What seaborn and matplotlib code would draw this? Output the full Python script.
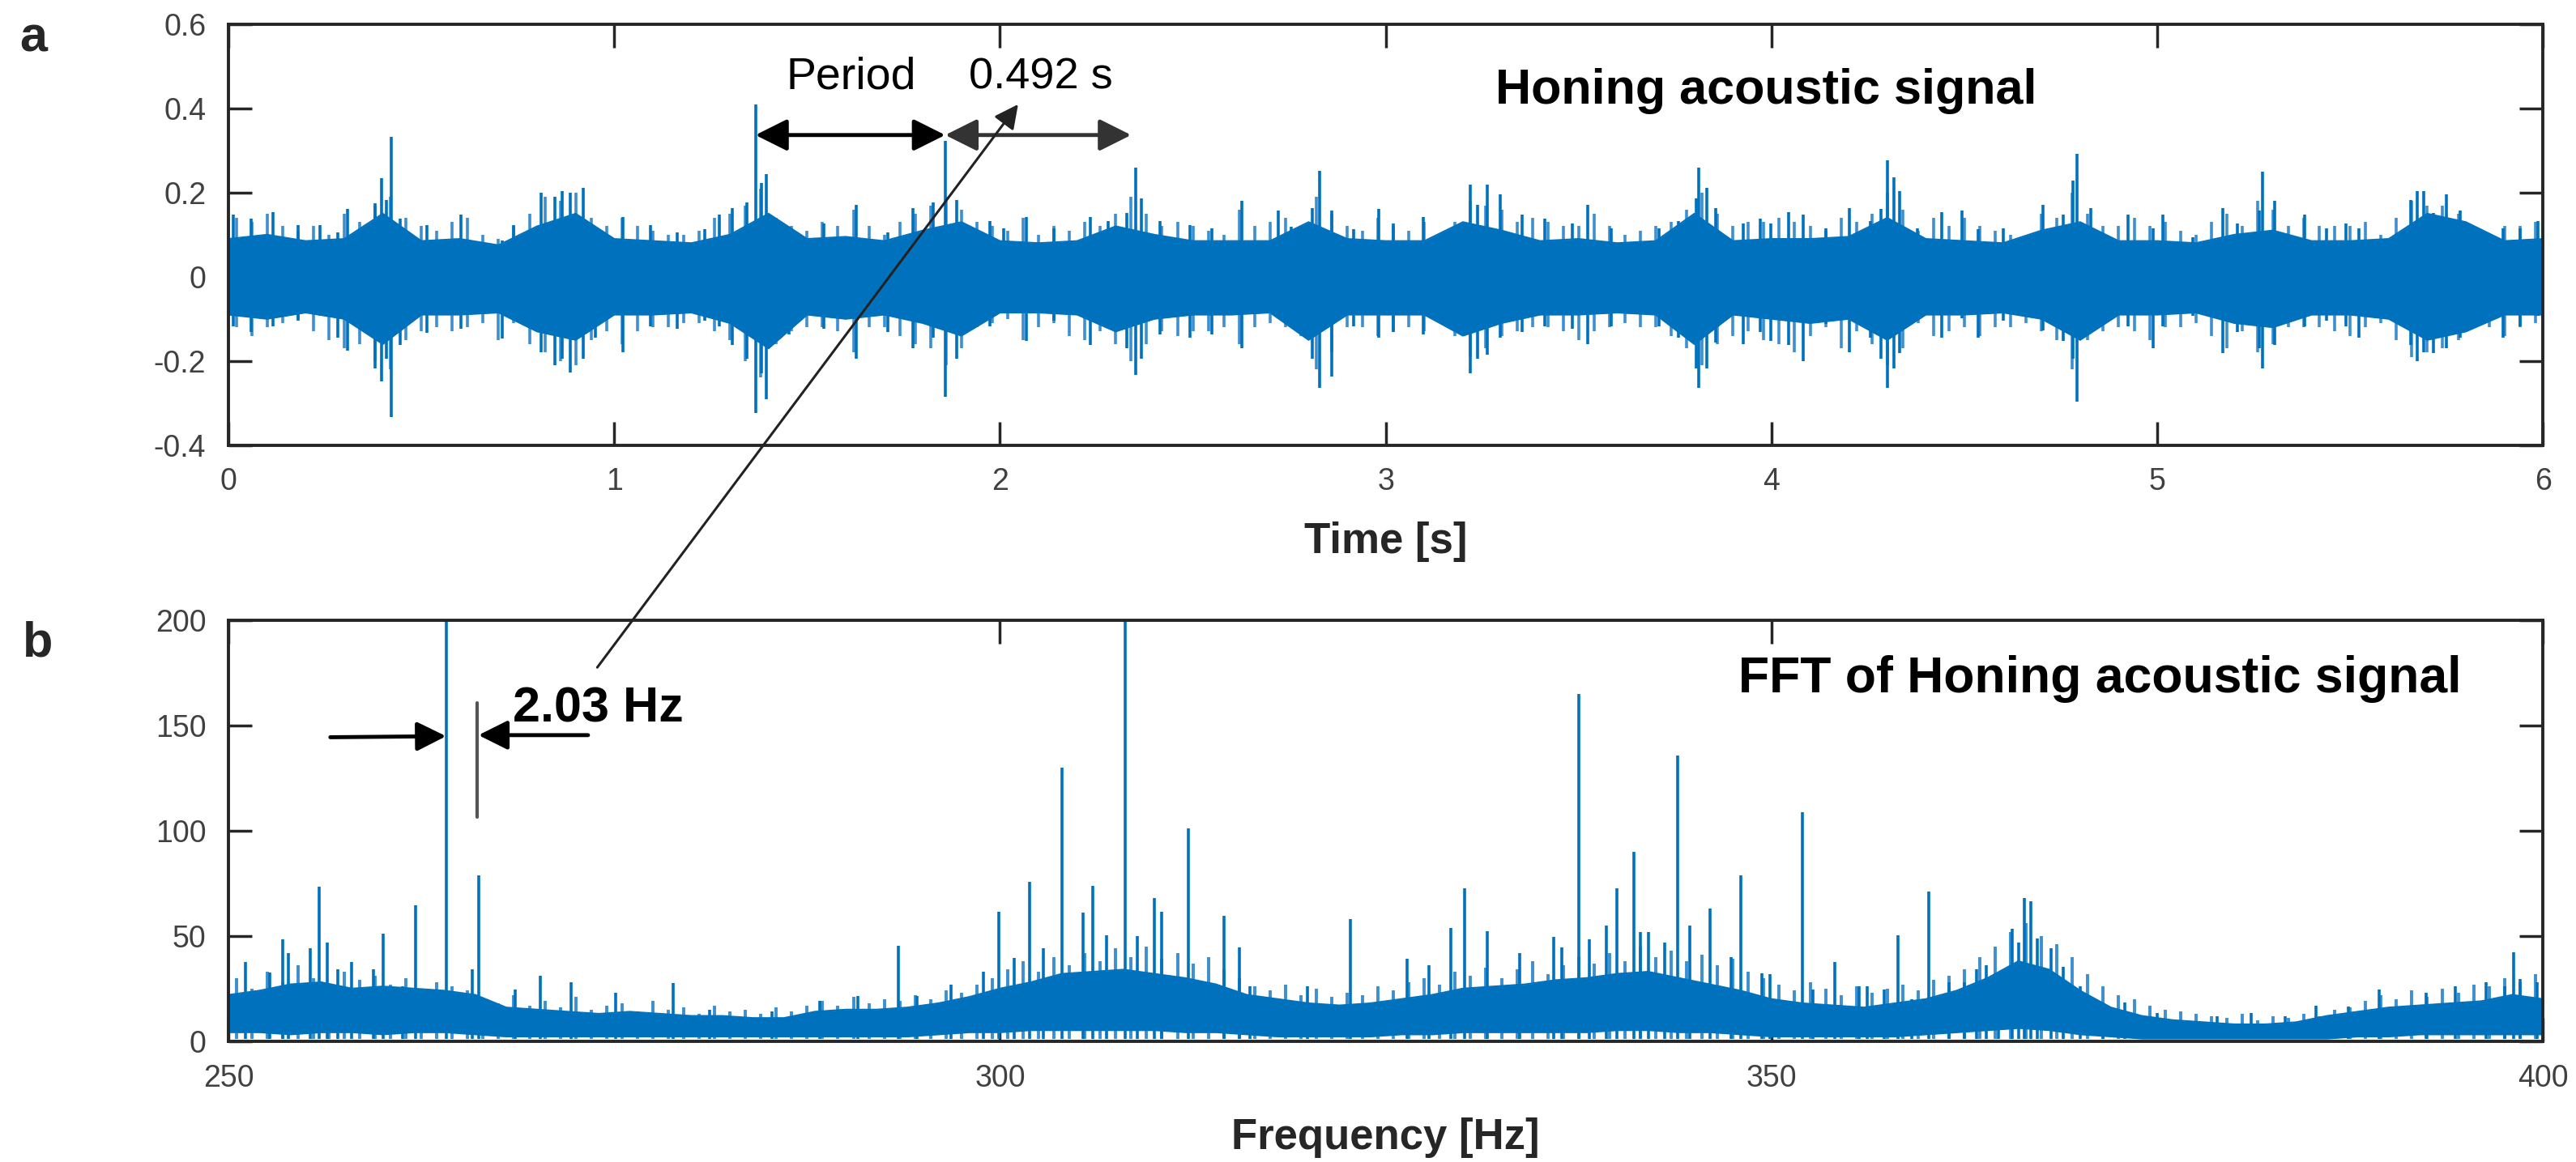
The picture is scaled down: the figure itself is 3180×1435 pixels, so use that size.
import numpy as np
import pandas as pd
import matplotlib
matplotlib.use("Agg")
import matplotlib.pyplot as plt
from matplotlib.patches import ConnectionPatch
import seaborn as sns

# ---------------- data ----------------
# (a) time signal: envelope of the dense part, every 0.1 s
env_t = [round(0.1 * i, 1) for i in range(61)]
env_hi = [0.09, 0.10, 0.085, 0.09, 0.15, 0.085, 0.09, 0.075, 0.12, 0.15,
          0.09, 0.085, 0.08, 0.10, 0.15, 0.09, 0.095, 0.085, 0.11, 0.13,
          0.085, 0.08, 0.085, 0.12, 0.10, 0.085, 0.085, 0.085, 0.13, 0.09,
          0.085, 0.085, 0.13, 0.11, 0.085, 0.09, 0.08, 0.085, 0.15, 0.085,
          0.09, 0.09, 0.095, 0.14, 0.09, 0.085, 0.08, 0.11, 0.13, 0.085,
          0.085, 0.08, 0.10, 0.11, 0.085, 0.085, 0.09, 0.15, 0.13, 0.085, 0.09]
env_lo = [-0.09, -0.10, -0.085, -0.10, -0.16, -0.09, -0.09, -0.085, -0.13, -0.15,
          -0.09, -0.09, -0.085, -0.11, -0.17, -0.09, -0.10, -0.09, -0.11, -0.14,
          -0.085, -0.085, -0.09, -0.13, -0.10, -0.09, -0.09, -0.085, -0.15, -0.09,
          -0.09, -0.09, -0.14, -0.11, -0.09, -0.09, -0.085, -0.09, -0.16, -0.09,
          -0.10, -0.11, -0.10, -0.15, -0.09, -0.09, -0.085, -0.10, -0.15, -0.09,
          -0.09, -0.085, -0.11, -0.12, -0.09, -0.09, -0.10, -0.15, -0.13, -0.09, -0.09]

# (a) fringe of the waveform, every 0.04 s (max / min)
fr_t = [round(0.02 + 0.04 * k, 2) for k in range(150)]
fr_hi = [.14, .13, .15, .12, .11, .12, .10, .15,
         .13, .17, .19, .14,
         .12, .11, .13, .14, .10, .09, .12,
         .15, .19, .18, .20, .14,
         .12, .14, .12, .11, .10, .10, .11, .14, .15,
         .17, .21, .14,
         .12, .11, .13, .12, .16, .12, .10, .13, .15,
         .17, .19, .16,
         .13, .12, .11, .14, .10, .12, .11, .13, .12, .15,
         .19, .15,
         .12, .13, .12, .11, .10, .16, .12, .13, .14, .12,
         .19, .15,
         .12, .11, .14, .12, .11, .13, .10, .13,
         .18, .17, .16,
         .13, .14, .13, .12, .12, .15, .12, .10, .11, .12, .13, .16,
         .20, .15,
         .12, .13, .13, .14, .13, .12, .11, .14, .13, .15,
         .20, .16,
         .11, .14, .12, .14, .12, .11, .10, .09, .15, .14,
         .20, .15,
         .12, .12, .14, .12, .13, .11, .10, .13, .15, .12,
         .18, .16,
         .12, .14, .12, .12, .12, .13, .10, .14,
         .18, .17, .17, .15,
         .12, .10, .12, .12, .13]
fr_lo = [-.12, -.14, -.12, -.11, -.10, -.13, -.15, -.17,
         -.16, -.20, -.22, -.15,
         -.13, -.12, -.13, -.12, -.11, -.15, -.11,
         -.16, -.18, -.20, -.21, -.15,
         -.13, -.16, -.13, -.12, -.12, -.11, -.11, -.13, -.15,
         -.20, -.24, -.16,
         -.13, -.12, -.12, -.13, -.18, -.12, -.12, -.14, -.16,
         -.17, -.21, -.17,
         -.12, -.11, -.10, -.15, -.12, -.11, -.14, -.15, -.13, -.16,
         -.20, -.16,
         -.13, -.14, -.13, -.13, -.12, -.16, -.12, -.11, -.12, -.14,
         -.22, -.18,
         -.12, -.12, -.14, -.13, -.12, -.13, -.11, -.14,
         -.19, -.17, -.14,
         -.13, -.12, -.12, -.13, -.15, -.13, -.12, -.11, -.12, -.12, -.14, -.17,
         -.21, -.16,
         -.14, -.13, -.15, -.16, -.18, -.14, -.12, -.17, -.13, -.16,
         -.21, -.17,
         -.11, -.14, -.13, -.12, -.14, -.12, -.12, -.11, -.13, -.15,
         -.22, -.15,
         -.13, -.12, -.13, -.15, -.12, -.12, -.11, -.14, -.17, -.13,
         -.18, -.16,
         -.12, -.12, -.12, -.13, -.14, -.12, -.11, -.15,
         -.19, -.18, -.17, -.15,
         -.12, -.12, -.14, -.12, -.11]

# (a) individual excursions: time, maximum, minimum
spk_t = [0.013, 0.058, 0.116, 0.18, 0.238, 0.283, 0.309, 0.379, 0.396, 0.409, 0.422, 0.444,
         0.514, 0.602, 0.71, 0.739, 0.81, 0.846, 0.864, 0.887, 0.919, 0.951, 1.022, 1.093,
         1.164, 1.234, 1.273, 1.305, 1.344, 1.366, 1.382, 1.395, 1.453, 1.543, 1.627, 1.71,
         1.774, 1.826, 1.858, 1.888, 1.974,
         2.01, 2.068, 2.139, 2.235, 2.28, 2.328, 2.351, 2.366, 2.415, 2.492, 2.55, 2.627,
         2.721, 2.756, 2.809, 2.829, 2.859, 2.917, 2.981, 3.02, 3.097, 3.161, 3.219, 3.238,
         3.264, 3.296, 3.354, 3.412, 3.483, 3.524, 3.585, 3.708, 3.759, 3.804, 3.812, 3.832,
         3.856, 3.926, 3.971,
         3.999, 4.044, 4.082, 4.14, 4.202, 4.256, 4.284, 4.301, 4.318, 4.331, 4.378, 4.442,
         4.494, 4.536, 4.6, 4.703, 4.757, 4.781, 4.791, 4.828, 4.925, 4.989, 5.015, 5.092,
         5.169, 5.208, 5.265, 5.272, 5.304, 5.381, 5.439, 5.49, 5.523, 5.658, 5.673, 5.69,
         5.716, 5.75, 5.786, 5.825, 5.896, 5.941, 5.986]
spk_hi = [0.148, 0.138, 0.154, 0.122, 0.122, 0.106, 0.161, 0.174, 0.235, 0.183, 0.332, 0.138,
          0.122, 0.148, 0.087, 0.122, 0.199, 0.19, 0.203, 0.2, 0.212, 0.113, 0.142, 0.122,
          0.106, 0.113, 0.148, 0.164, 0.177, 0.409, 0.222, 0.244, 0.119, 0.126, 0.171, 0.106,
          0.164, 0.177, 0.324, 0.183, 0.132,
          0.116, 0.142, 0.116, 0.142, 0.132, 0.151, 0.259, 0.187, 0.132, 0.122, 0.116, 0.18,
          0.158, 0.119, 0.164, 0.252, 0.158, 0.113, 0.161, 0.126, 0.142, 0.087, 0.219, 0.171,
          0.219, 0.196, 0.148, 0.138, 0.126, 0.171, 0.116, 0.116, 0.132, 0.187, 0.26, 0.212,
          0.164, 0.126, 0.138,
          0.126, 0.154, 0.148, 0.116, 0.164, 0.132, 0.161, 0.276, 0.236, 0.203, 0.116, 0.154,
          0.158, 0.113, 0.116, 0.171, 0.148, 0.228, 0.292, 0.164, 0.148, 0.116, 0.148, 0.094,
          0.164, 0.126, 0.158, 0.25, 0.18, 0.148, 0.116, 0.126, 0.116, 0.183, 0.204, 0.203,
          0.151, 0.196, 0.158, 0.116, 0.116, 0.116, 0.132]
spk_lo = [-0.118, -0.131, -0.118, -0.105, -0.092, -0.144, -0.176, -0.217, -0.249, -0.195, -0.333, -0.163,
          -0.134, -0.124, -0.147, -0.092, -0.179, -0.211, -0.195, -0.227, -0.195, -0.144, -0.179, -0.118,
          -0.124, -0.105, -0.118, -0.163, -0.195, -0.323, -0.23, -0.291, -0.137, -0.124, -0.195, -0.131,
          -0.169, -0.144, -0.285, -0.195, -0.118,
          -0.086, -0.153, -0.105, -0.163, -0.124, -0.169, -0.233, -0.195, -0.137, -0.144, -0.137, -0.169,
          -0.099, -0.112, -0.195, -0.265, -0.237, -0.118, -0.144, -0.131, -0.137, -0.105, -0.23, -0.195,
          -0.185, -0.144, -0.131, -0.118, -0.124, -0.16, -0.118, -0.118, -0.144, -0.217, -0.265, -0.217,
          -0.156, -0.16, -0.131,
          -0.153, -0.163, -0.201, -0.112, -0.179, -0.144, -0.195, -0.265, -0.217, -0.182, -0.092, -0.144,
          -0.099, -0.144, -0.105, -0.128, -0.153, -0.195, -0.297, -0.118, -0.118, -0.169, -0.118, -0.092,
          -0.182, -0.131, -0.169, -0.217, -0.163, -0.118, -0.105, -0.118, -0.144, -0.163, -0.201, -0.179,
          -0.182, -0.169, -0.144, -0.105, -0.144, -0.118, -0.092]

# (b) FFT: envelope of the noise floor, every 2 Hz
fft_env_f = list(range(250, 401, 2))
fft_env_hi = [22, 24, 27, 28, 25, 26, 25, 24, 22, 16, 15, 14, 13, 14, 13, 12, 12, 11, 11, 14,
              15, 15, 16, 18, 21, 25, 28, 32, 33, 34, 32, 30, 27, 22, 20, 18, 17, 18, 20, 22,
              25, 26, 27, 29, 30, 32, 33, 30, 27, 24, 20, 18, 17, 16, 18, 20, 24, 30, 38, 34,
              24, 16, 12, 10, 9, 8, 8, 9, 12, 14, 16, 17, 18, 19, 22, 20]
fft_env_lo = [4, 4, 3, 4, 4, 3, 4, 4, 3, 2, 2, 2, 2, 2, 2, 2, 2, 2, 2, 2,
              2, 2, 2, 3, 4, 4, 5, 5, 5, 5, 5, 4, 4, 3, 2, 2, 2, 2, 3, 3,
              4, 4, 4, 4, 4, 5, 5, 4, 4, 3, 2, 2, 2, 2, 2, 3, 4, 5, 6, 5,
              3, 2, 1, 1, 1, 1, 1, 1, 1, 2, 2, 3, 3, 3, 3, 3]

# (b) fringe of the noise floor, every 1 Hz
fft_fr_f = [250.5 + k for k in range(150)]
fft_fr_a = [30, 25, 33, 28, 36, 30, 27, 33, 29, 31, 27, 30, 25, 28, 26, 24,
            20, 18, 22, 17, 19, 16, 21, 15, 17, 18, 14, 19, 15, 16, 13, 17, 14, 15, 13, 16, 14, 17,
            19, 17, 21, 18, 20, 19, 22, 20, 24, 23, 27, 30,
            34, 38, 33, 40, 36, 42, 38, 44, 40, 45, 39, 42, 37, 40, 34, 30,
            26, 24, 27, 22, 25, 21, 23, 22, 26, 24,
            28, 30, 27, 33, 31, 35, 30, 34, 38, 32, 36, 40, 37,
            42, 38, 45, 40, 43, 38, 41, 36, 39, 33, 30,
            27, 24, 28, 25, 22, 26, 23, 25, 27, 24, 29, 31, 34,
            40, 45, 52, 56, 50, 46, 40, 32,
            26, 22, 20, 17, 15, 14, 13,
            12, 11, 13, 10, 12, 11, 13, 12, 15, 16,
            19, 22, 20, 24, 21, 25, 23, 27, 26, 30, 28, 32]

# (b) FFT peaks: frequency [Hz], amplitude (peaks above 200 are cut by the axis)
pk_f = [251.1, 252.7, 253.5, 253.9, 255.3, 255.9, 256.4, 257.1, 258.0, 259.4, 260.0, 261.3,
        262.1, 264.1, 265.8, 266.2, 268.6, 270.2, 272.2, 275.1, 278.8, 281.2, 285.2, 288.3,
        290.8, 293.4, 294.6, 296.8, 298.9, 299.9,
        300.9, 301.9, 302.8, 304.0, 305.4, 306.0, 306.9, 308.1, 308.9, 310.0, 310.5, 312.2,
        314.5, 315.5, 316.2, 319.9, 322.7, 326.4, 327.8, 329.2, 330.1, 331.6, 333.7, 335.9,
        336.4, 337.5, 338.2, 339.3, 340.0, 341.1, 341.5, 342.0, 343.1, 343.9, 344.7, 346.0,
        347.4, 348.0, 349.4,
        349.9, 352.0, 352.7, 354.1, 355.7, 356.2, 357.3, 358.2, 359.1, 360.2, 361.5, 362.5,
        363.3, 363.9, 364.7, 365.6, 366.0, 366.4, 366.8, 367.2, 368.1, 368.9, 370.0, 371.5,
        372.9, 375.0, 378.9, 381.1, 383.3, 385.3, 387.4, 389.4, 392.4, 394.3, 396.3, 397.5,
        398.1, 398.5, 399.6]
pk_a = [37.6, 32.8, 48.5, 42, 44, 73.5, 47, 34, 37.6, 34, 51, 26,
        64.7, 240, 34, 79, 24.7, 31, 28, 23, 27.7, 15, 14, 19,
        21.5, 45.5, 21.5, 26.7, 33, 61.5,
        39.5, 75.8, 44, 130, 61.3, 73.8, 50.4, 240, 50, 68, 61.5, 101,
        59.4, 44.6, 26, 26, 58, 39, 36, 53.8, 72.6, 52.3, 42, 49.7,
        44.6, 165, 48.5, 55, 72.6, 90, 51.7, 51.7, 47, 136, 55, 63,
        40, 79, 32.4,
        31.8, 109, 24.7, 37.6, 26, 26, 24.7, 50.4, 19.9, 71.3, 28, 28,
        34, 36, 32.4, 53.6, 47, 68, 66.4, 48.7, 44, 35.4, 26, 18.3,
        18.3, 13.5, 12, 13.5, 12, 16.7, 16.4, 24.7, 23, 26, 28, 26,
        42.3, 29.5, 28]

time_ticks = [0, 1, 2, 3, 4, 5, 6]
amp_ticks = [-0.4, -0.2, 0, 0.2, 0.4, 0.6]
amp_labels = ["-0.4", "-0.2", "0", "0.2", "0.4", "0.6"]
freq_ticks = [250, 300, 350, 400]
mag_ticks = [0, 50, 100, 150, 200]

# ---------------- styling ----------------
sns.set_theme(style="white")
plt.rcParams["font.family"] = ["Liberation Sans", "DejaVu Sans"]

BLUE = "#0072BD"
LIGHT = "#3d8fd0"
DARK = "#262626"
TICKC = "#404040"

fig = plt.figure(figsize=(31.8, 14.35), dpi=100)
ax1 = fig.add_axes([0.0887, 0.617, 0.8985, 0.362])
ax2 = fig.add_axes([0.0887, 0.104, 0.8985, 0.362])

# ---------------- panel a ----------------
env_df = pd.DataFrame({"t": env_t, "hi": env_hi, "lo": env_lo})
ax1.vlines(fr_t, fr_lo, fr_hi, color=LIGHT, lw=2.6, zorder=1)
ax1.fill_between(env_df["t"], env_df["lo"], env_df["hi"], color=BLUE, lw=0, zorder=2)
sns.lineplot(data=env_df, x="t", y="hi", ax=ax1, color=BLUE, lw=1.5, zorder=2)
sns.lineplot(data=env_df, x="t", y="lo", ax=ax1, color=BLUE, lw=1.5, zorder=2)
ax1.vlines(spk_t, spk_lo, spk_hi, color=BLUE, lw=2.6, zorder=3)

ax1.set_xlim(0, 6)
ax1.set_ylim(-0.4, 0.6)
ax1.set_xticks(time_ticks)
ax1.set_xticklabels([str(v) for v in time_ticks])
ax1.set_yticks(amp_ticks)
ax1.set_yticklabels(amp_labels)
ax1.set_xlabel("Time [s]", fontsize=38, fontweight="bold", color=DARK, labelpad=22)
ax1.set_ylabel("")

# ---------------- panel b ----------------
fft_df = pd.DataFrame({"f": fft_env_f, "hi": fft_env_hi, "lo": fft_env_lo})
ax2.vlines(fft_fr_f, 1, fft_fr_a, color=LIGHT, lw=2.8, zorder=1)
ax2.fill_between(fft_df["f"], fft_df["lo"], fft_df["hi"], color=BLUE, lw=0, zorder=2)
sns.lineplot(data=fft_df, x="f", y="hi", ax=ax2, color=BLUE, lw=1.5, zorder=2)
ax2.vlines(pk_f, 1, pk_a, color=BLUE, lw=2.6, zorder=3)

ax2.set_xlim(250, 400)
ax2.set_ylim(0, 200)
ax2.set_xticks(freq_ticks)
ax2.set_xticklabels([str(v) for v in freq_ticks])
ax2.set_yticks(mag_ticks)
ax2.set_yticklabels([str(v) for v in mag_ticks])
ax2.set_xlabel("Frequency [Hz]", fontsize=38, fontweight="bold", color=DARK, labelpad=22)
ax2.set_ylabel("")

for ax in (ax1, ax2):
    for s in ax.spines.values():
        s.set_visible(True)
        s.set_color(DARK)
        s.set_linewidth(2.8)
        s.set_zorder(5)
    ax.tick_params(axis="both", which="major", direction="in", length=21, width=2.5,
                   color=DARK, labelsize=27, labelcolor=TICKC, top=True, right=True,
                   bottom=True, left=True, pad=20)
    ax.grid(False)

# ---------------- annotations ----------------
ax1.text(1.445, 0.475, "Period", fontsize=40, color="black", ha="left", va="center")
ax1.text(1.92, 0.475, "0.492 s", fontsize=39, color="black", ha="left", va="center")
ax1.annotate("", xy=(1.366, 0.337), xytext=(1.858, 0.337),
             arrowprops=dict(arrowstyle="<|-|>", color="black", lw=3.5,
                             mutation_scale=60, shrinkA=0, shrinkB=0))
ax1.annotate("", xy=(1.858, 0.337), xytext=(2.34, 0.337),
             arrowprops=dict(arrowstyle="<|-|>", color="#333333", lw=3.5,
                             mutation_scale=60, shrinkA=0, shrinkB=0))
ax1.text(3.986, 0.442, "Honing acoustic signal", fontsize=44, fontweight="bold",
         color="black", ha="center", va="center")

ax2.text(371.3, 172.3, "FFT of Honing acoustic signal", fontsize=45, fontweight="bold",
         color="black", ha="center", va="center")
ax2.text(268.4, 157.7, "2.03 Hz", fontsize=44, fontweight="bold",
         color="black", ha="left", va="center")
ax2.annotate("", xy=(264.1, 145), xytext=(256.6, 144.5),
             arrowprops=dict(arrowstyle="-|>", color="black", lw=3.5,
                             mutation_scale=55, shrinkA=0, shrinkB=0))
ax2.annotate("", xy=(266.2, 145.5), xytext=(273.3, 145.5),
             arrowprops=dict(arrowstyle="-|>", color="black", lw=3.5,
                             mutation_scale=55, shrinkA=0, shrinkB=0))
ax2.plot([266.1, 266.1], [106.5, 160.8], color="#555555", lw=3)

con = ConnectionPatch(xyA=(273.9, 177.7), coordsA=ax2.transData,
                      xyB=(2.047, 0.41), coordsB=ax1.transData,
                      arrowstyle="-|>", color="#222222", lw=2.2, mutation_scale=45,
                      shrinkA=0, shrinkB=0)
fig.add_artist(con)

fig.text(24 / 3180, 1 - 48 / 1435, "a", fontsize=44, fontweight="bold", ha="left", va="center")
fig.text(28 / 3180, 1 - 795 / 1435, "b", fontsize=44, fontweight="bold", ha="left", va="center")

fig.savefig("out.png", dpi=100, facecolor="white")
